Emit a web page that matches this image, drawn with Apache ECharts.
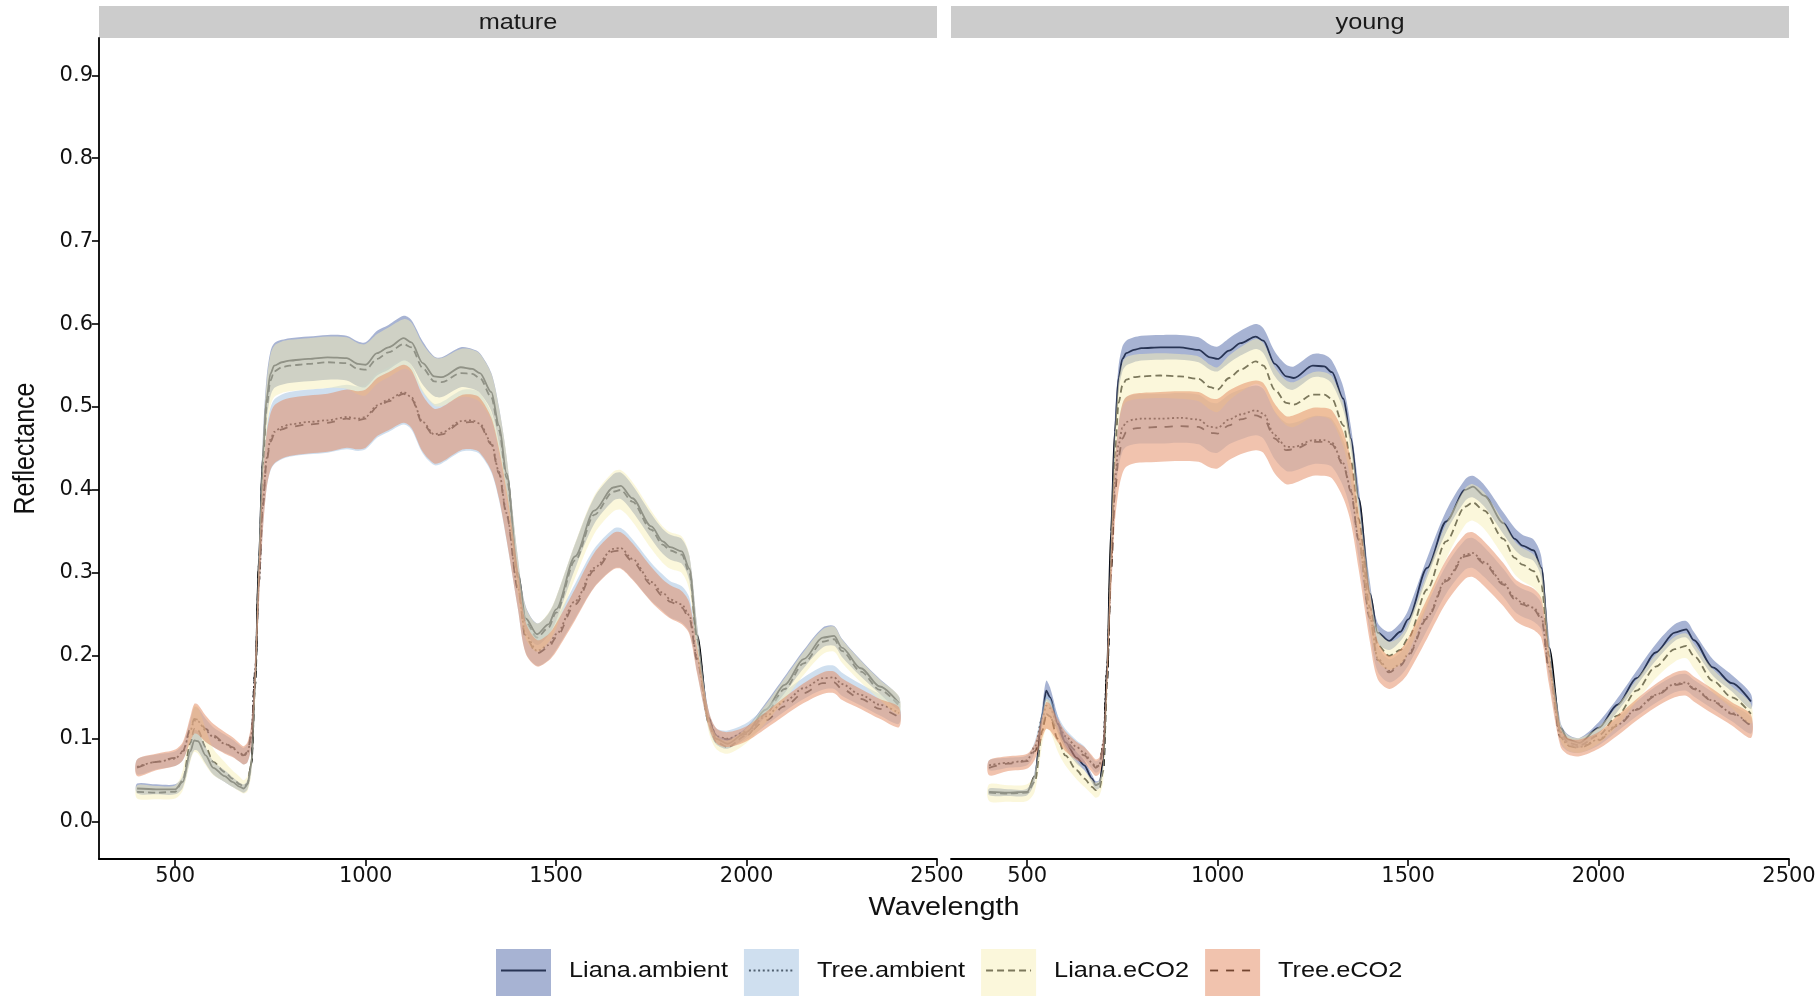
<!DOCTYPE html>
<html>
<head>
<meta charset="utf-8">
<title>Reflectance spectra</title>
<script src="https://cdn.jsdelivr.net/npm/echarts@6/dist/echarts.min.js"></script>
<style>
  html, body { margin: 0; padding: 0; background: #ffffff; }
  #chart { width: 1818px; height: 996px; }
</style>
</head>
<body>
<div id="chart"></div>
<script>
// ---------------- data ----------------
const panels = ['mature', 'young'];
const groups = ['Liana.ambient', 'Tree.ambient', 'Liana.eCO2', 'Tree.eCO2'];
const xTicks = [500, 1000, 1500, 2000, 2500];
const yTicks = [0, 0.1, 0.2, 0.3, 0.4, 0.5, 0.6, 0.7, 0.8, 0.9];

const wavelength = [
  400, 450, 500, 520, 540, 550, 560, 580, 600, 630,
  650, 670, 680, 690, 700, 710, 720, 730, 740, 750,
  760, 780, 800, 850, 900, 950, 980, 1000, 1030, 1060,
  1100, 1120, 1150, 1180, 1200, 1250, 1280, 1300, 1330, 1350,
  1370, 1400, 1420, 1450, 1480, 1500, 1550, 1600, 1650, 1670,
  1700, 1750, 1780, 1800, 1830, 1850, 1870, 1900, 1920, 1950,
  2000, 2050, 2100, 2150, 2200, 2230, 2250, 2300, 2350, 2400
];

// mature leaves: mean reflectance and band half-width per group
const matureLianaAmbient = [
  .040, .039, .039, .048, .085, .098, .097, .080, .065, .055,
  .048, .042, .040, .045, .070, .170, .320, .440, .510, .540,
  .550, .554, .556, .558, .560, .559, .552, .551, .565, .572,
  .583, .578, .553, .537, .536, .548, .546, .541, .518, .478,
  .420, .300, .245, .226, .238, .256, .320, .375, .403, .405,
  .390, .356, .338, .331, .326, .305, .225, .125, .100, .094,
  .108, .135, .165, .196, .222, .224, .210, .185, .163, .143
];
const matureLianaAmbientSd = [
  .006, .006, .006, .007, .010, .012, .012, .010, .008, .007,
  .006, .005, .005, .006, .008, .012, .018, .023, .026, .027,
  .027, .027, .027, .027, .027, .027, .027, .027, .027, .027,
  .027, .027, .026, .024, .024, .024, .024, .024, .023, .022,
  .020, .017, .015, .013, .013, .014, .015, .016, .016, .016,
  .016, .015, .015, .015, .015, .015, .013, .008, .006, .006,
  .006, .008, .010, .011, .012, .012, .011, .010, .009, .008
];
const matureTreeAmbient = [
  .066, .072, .076, .084, .110, .122, .121, .110, .102, .094,
  .089, .082, .079, .083, .104, .182, .292, .383, .438, .461,
  .470, .476, .479, .482, .484, .488, .486, .488, .502, .509,
  .518, .512, .482, .467, .469, .483, .484, .480, .457, .422,
  .372, .282, .225, .206, .213, .226, .266, .306, .329, .330,
  .317, .289, .276, .268, .262, .249, .198, .124, .103, .100,
  .109, .127, .145, .161, .173, .174, .166, .153, .141, .131
];
const matureTreeAmbientSd = [
  .009, .009, .009, .010, .013, .016, .016, .014, .012, .011,
  .010, .010, .010, .011, .013, .020, .028, .033, .036, .038,
  .039, .039, .039, .039, .039, .039, .039, .039, .039, .039,
  .039, .039, .038, .037, .037, .037, .037, .037, .036, .034,
  .033, .026, .021, .018, .018, .019, .021, .023, .024, .024,
  .024, .023, .022, .022, .022, .021, .017, .011, .010, .010,
  .010, .011, .012, .013, .014, .014, .014, .013, .013, .013
];
const matureLianaECO2 = [
  .036, .035, .036, .050, .095, .112, .110, .090, .072, .060,
  .052, .045, .042, .046, .070, .165, .310, .430, .500, .532,
  .543, .548, .550, .552, .554, .553, .546, .545, .558, .566,
  .576, .572, .547, .531, .530, .541, .540, .535, .512, .472,
  .415, .295, .240, .222, .234, .252, .315, .370, .398, .400,
  .386, .352, .334, .327, .322, .300, .220, .120, .096, .090,
  .104, .130, .160, .191, .217, .220, .206, .181, .159, .140
];
const matureLianaECO2Sd = [
  .008, .008, .008, .012, .022, .028, .028, .022, .016, .012,
  .010, .009, .008, .009, .012, .018, .024, .028, .030, .031,
  .031, .031, .031, .031, .031, .031, .031, .031, .030, .030,
  .030, .030, .029, .029, .029, .029, .029, .029, .028, .027,
  .026, .022, .019, .017, .018, .019, .021, .023, .024, .024,
  .024, .023, .022, .022, .022, .021, .017, .010, .008, .008,
  .009, .011, .013, .014, .015, .015, .014, .013, .012, .011
];
const matureTreeECO2 = [
  .065, .072, .077, .085, .112, .124, .123, .112, .104, .095,
  .090, .083, .080, .084, .105, .180, .290, .380, .435, .458,
  .467, .473, .476, .479, .481, .486, .484, .486, .500, .507,
  .516, .510, .480, .465, .467, .481, .482, .478, .455, .420,
  .370, .280, .222, .203, .210, .222, .262, .303, .326, .327,
  .314, .286, .272, .265, .258, .245, .195, .125, .104, .099,
  .106, .122, .139, .155, .167, .168, .160, .148, .136, .126
];
const matureTreeECO2Sd = [
  .010, .010, .010, .011, .015, .018, .018, .016, .014, .013,
  .012, .011, .011, .012, .014, .020, .027, .031, .033, .034,
  .035, .035, .035, .035, .035, .035, .035, .035, .035, .035,
  .035, .035, .034, .033, .033, .033, .033, .033, .032, .030,
  .030, .024, .019, .016, .016, .017, .019, .021, .022, .022,
  .022, .021, .020, .020, .020, .019, .016, .010, .009, .009,
  .009, .010, .011, .012, .013, .013, .013, .012, .012, .012
];

// young leaves
const youngLianaAmbient = [
  .036, .035, .036, .055, .130, .158, .150, .118, .096, .077,
  .068, .052, .044, .046, .075, .190, .350, .470, .535, .558,
  .565, .569, .571, .572, .572, .569, .560, .558, .568, .577,
  .585, .580, .552, .537, .535, .550, .549, .542, .510, .462,
  .390, .275, .228, .218, .229, .244, .306, .362, .400, .404,
  .393, .360, .341, .333, .327, .306, .210, .113, .099, .095,
  .113, .141, .173, .204, .228, .232, .219, .186, .167, .145
];
const youngLianaAmbientSd = [
  .004, .004, .004, .006, .010, .012, .012, .010, .008, .007,
  .006, .005, .005, .005, .007, .010, .013, .014, .015, .015,
  .015, .015, .015, .015, .015, .015, .015, .015, .015, .015,
  .015, .015, .015, .014, .014, .014, .014, .014, .014, .014,
  .014, .013, .012, .011, .011, .011, .012, .013, .013, .013,
  .013, .013, .013, .013, .013, .013, .012, .007, .006, .006,
  .007, .008, .009, .010, .010, .010, .010, .010, .010, .009
];
const youngTreeAmbient = [
  .068, .071, .074, .090, .125, .140, .137, .118, .103, .090,
  .083, .071, .066, .069, .095, .185, .310, .410, .455, .475,
  .482, .485, .486, .486, .487, .485, .476, .475, .485, .491,
  .496, .492, .466, .452, .452, .460, .460, .457, .432, .400,
  .342, .247, .197, .182, .190, .202, .247, .292, .322, .324,
  .313, .288, .270, .264, .258, .247, .187, .103, .092, .090,
  .099, .117, .136, .153, .166, .168, .161, .146, .131, .116
];
const youngTreeAmbientSd = [
  .006, .006, .006, .007, .010, .012, .012, .010, .009, .008,
  .008, .007, .007, .007, .009, .014, .020, .025, .028, .029,
  .030, .030, .030, .030, .030, .030, .030, .030, .030, .030,
  .030, .030, .029, .029, .029, .029, .029, .029, .028, .027,
  .024, .020, .016, .014, .014, .014, .016, .017, .018, .018,
  .018, .017, .017, .017, .017, .016, .013, .008, .007, .007,
  .007, .008, .009, .010, .010, .010, .010, .010, .010, .010
];
const youngLianaECO2 = [
  .035, .034, .035, .048, .110, .130, .127, .100, .080, .062,
  .052, .042, .038, .041, .062, .170, .320, .440, .505, .526,
  .533, .536, .537, .538, .537, .534, .524, .521, .535, .545,
  .555, .550, .521, .505, .503, .515, .515, .510, .478, .435,
  .365, .258, .213, .200, .207, .221, .280, .338, .380, .385,
  .375, .341, .318, .310, .302, .285, .200, .108, .095, .092,
  .104, .128, .158, .187, .208, .212, .200, .170, .150, .130
];
const youngLianaECO2Sd = [
  .010, .010, .010, .011, .015, .018, .018, .015, .012, .011,
  .010, .009, .009, .009, .011, .016, .021, .024, .026, .027,
  .027, .027, .027, .027, .027, .027, .027, .027, .027, .027,
  .027, .027, .027, .027, .027, .027, .027, .027, .026, .025,
  .024, .022, .019, .017, .017, .018, .020, .021, .022, .022,
  .022, .021, .020, .020, .020, .019, .016, .010, .009, .009,
  .010, .012, .013, .014, .015, .015, .015, .014, .013, .012
];
const youngTreeECO2 = [
  .065, .070, .073, .085, .115, .128, .126, .110, .097, .085,
  .080, .070, .065, .068, .092, .180, .300, .395, .440, .462,
  .470, .474, .475, .476, .477, .476, .469, .468, .478, .485,
  .490, .487, .462, .448, .449, .458, .458, .455, .430, .398,
  .340, .245, .195, .180, .188, .200, .245, .290, .320, .322,
  .311, .286, .268, .262, .256, .245, .185, .102, .091, .089,
  .098, .116, .135, .152, .165, .167, .160, .145, .130, .115
];
const youngTreeECO2Sd = [
  .009, .009, .009, .010, .013, .016, .016, .014, .012, .011,
  .010, .010, .010, .010, .013, .020, .029, .036, .040, .042,
  .042, .042, .042, .042, .042, .042, .042, .042, .042, .042,
  .042, .042, .042, .041, .041, .041, .041, .041, .040, .038,
  .035, .029, .023, .020, .020, .021, .024, .026, .027, .027,
  .027, .026, .025, .025, .025, .024, .020, .011, .010, .010,
  .010, .012, .013, .014, .015, .015, .015, .015, .014, .014
];

// panel -> group -> [mean, half-width]
const spectra = [
  [[matureLianaAmbient, matureLianaAmbientSd], [matureTreeAmbient, matureTreeAmbientSd],
   [matureLianaECO2, matureLianaECO2Sd], [matureTreeECO2, matureTreeECO2Sd]],
  [[youngLianaAmbient, youngLianaAmbientSd], [youngTreeAmbient, youngTreeAmbientSd],
   [youngLianaECO2, youngLianaECO2Sd], [youngTreeECO2, youngTreeECO2Sd]]
];

// ---------------- styles ----------------
const bandColors = ['#5068a8', '#9fbfdf', '#f7efb7', '#e3875d'];
const bandOpacity = 0.5;
const lineColor = '#000000';
const lineTypes = ['solid', [2, 2.6], [7, 4], [8, 8]];
const lineWidth = 1.8;
const SMOOTH = 0.3;

const TICK_FONT = '"DejaVu Sans", sans-serif';
const TEXT_FONT = '"Liberation Sans", Arial, sans-serif';
const STRETCH = 1.15;

const layout = {
  top: 38, height: 821, width: 838,
  lefts: [99, 951],
  stripTop: 6, stripH: 32
};

// ribbon between lower and upper bound, drawn as one polygon through the axis scales
function bandRenderer(rows, color) {
  return function (params, api) {
    if (params.dataIndex !== 0) return null;
    const upper = rows.map(r => api.coord([r[0], r[2]]));
    const lower = rows.map(r => api.coord([r[0], r[1]])).reverse();
    return {
      type: 'polygon',
      shape: { points: upper.concat(lower), smooth: SMOOTH },
      style: { fill: color, opacity: bandOpacity }
    };
  };
}

// ---------------- option ----------------
const grids = [], xAxes = [], yAxes = [], series = [], graphics = [];

panels.forEach((panel, pi) => {
  grids.push({
    left: layout.lefts[pi], top: layout.top,
    width: layout.width, height: layout.height,
    containLabel: false, outerBoundsMode: 'none'
  });
  xAxes.push({
    type: 'value', gridIndex: pi, min: 300, max: 2500,
    axisLine: { show: true, onZero: false, lineStyle: { color: '#000', width: 1.8 } },
    axisTick: { show: true, length: 7, customValues: xTicks, lineStyle: { color: '#000', width: 1.6 } },
    axisLabel: {
      customValues: xTicks, showMinLabel: true, showMaxLabel: true,
      alignMinLabel: 'center', alignMaxLabel: 'center',
      margin: 7, color: '#111', fontSize: 21, fontFamily: TICK_FONT,
      formatter: v => String(v)
    },
    splitLine: { show: false }
  });
  yAxes.push({
    type: 'value', gridIndex: pi, min: -0.045, max: 0.945,
    show: pi === 0,
    axisLine: { show: true, onZero: false, lineStyle: { color: '#000', width: 1.8 } },
    axisTick: { show: true, length: 7, customValues: yTicks, lineStyle: { color: '#000', width: 1.6 } },
    axisLabel: {
      customValues: yTicks, showMinLabel: true, showMaxLabel: true,
      margin: 6, color: '#111', fontSize: 21, fontFamily: TICK_FONT,
      formatter: v => v.toFixed(1)
    },
    splitLine: { show: false }
  });

  // mean spectra first, translucent ribbons layered over them
  groups.forEach((group, gi) => {
    const mean = spectra[pi][gi][0];
    series.push({
      type: 'line', name: group, z: 2,
      xAxisIndex: pi, yAxisIndex: pi, symbol: 'none', silent: true, animation: false,
      smooth: SMOOTH, smoothMonotone: 'x',
      data: wavelength.map((w, i) => [w, mean[i]]),
      lineStyle: { color: lineColor, width: lineWidth, type: lineTypes[gi], cap: 'butt' }
    });
  });
  groups.forEach((group, gi) => {
    const [mean, sd] = spectra[pi][gi];
    const rows = wavelength.map((w, i) => [w, mean[i] - sd[i], mean[i] + sd[i]]);
    series.push({
      type: 'custom', name: group + ' band', z: 3 + gi,
      xAxisIndex: pi, yAxisIndex: pi, silent: true, animation: false,
      dimensions: ['wavelength', 'lower', 'upper'],
      encode: { x: 0, y: [1, 2] },
      data: rows,
      renderItem: bandRenderer(rows, bandColors[gi])
    });
  });

  // facet strip
  const left = layout.lefts[pi];
  graphics.push({
    type: 'rect', silent: true,
    shape: { x: left, y: layout.stripTop, width: layout.width, height: layout.stripH },
    style: { fill: '#cccccc' }
  });
  graphics.push({
    type: 'text', silent: true,
    x: left + layout.width / 2, y: layout.stripTop + layout.stripH / 2 + 1,
    scaleX: STRETCH,
    style: { text: panel, font: '22px ' + TEXT_FONT, fill: '#1a1a1a', align: 'center', verticalAlign: 'middle' }
  });
});

// axis titles
graphics.push({
  type: 'text', silent: true,
  x: (layout.lefts[0] + layout.lefts[1] + layout.width) / 2, y: 908,
  scaleX: STRETCH,
  style: { text: 'Wavelength', font: '25px ' + TEXT_FONT, fill: '#111', align: 'center', verticalAlign: 'middle' }
});
graphics.push({
  type: 'text', silent: true,
  x: 26, y: layout.top + layout.height / 2,
  rotation: Math.PI / 2, scaleY: STRETCH,
  style: { text: 'Reflectance', font: '25px ' + TEXT_FONT, fill: '#111', align: 'center', verticalAlign: 'middle' }
});

// legend: line under a translucent key, followed by its label
(function buildLegend() {
  const ctx = document.createElement('canvas').getContext('2d');
  ctx.font = '22px ' + TEXT_FONT;
  const keyW = 55, keyH = 47, keyTop = 949, textGap = 18, itemGap = 16;
  const midY = keyTop + keyH / 2 - 2;
  let x = 496;
  groups.forEach((group, gi) => {
    graphics.push({
      type: 'line', silent: true, z: 1,
      shape: { x1: x + 5, y1: midY, x2: x + keyW - 5, y2: midY },
      style: { stroke: lineColor, lineWidth: lineWidth, lineDash: lineTypes[gi] === 'solid' ? null : lineTypes[gi] }
    });
    graphics.push({
      type: 'rect', silent: true, z: 2,
      shape: { x: x, y: keyTop, width: keyW, height: keyH },
      style: { fill: bandColors[gi], opacity: bandOpacity }
    });
    const tx = x + keyW + textGap;
    graphics.push({
      type: 'text', silent: true,
      x: tx, y: midY, scaleX: STRETCH,
      style: { text: group, font: '22px ' + TEXT_FONT, fill: '#111', align: 'left', verticalAlign: 'middle' }
    });
    x = tx + ctx.measureText(group).width * STRETCH + itemGap;
  });
})();

const chart = echarts.init(document.getElementById('chart'), null, { renderer: 'canvas' });
chart.setOption({
  animation: false,
  backgroundColor: '#ffffff',
  grid: grids,
  xAxis: xAxes,
  yAxis: yAxes,
  series: series,
  graphic: { elements: graphics }
});
</script>
</body>
</html>
